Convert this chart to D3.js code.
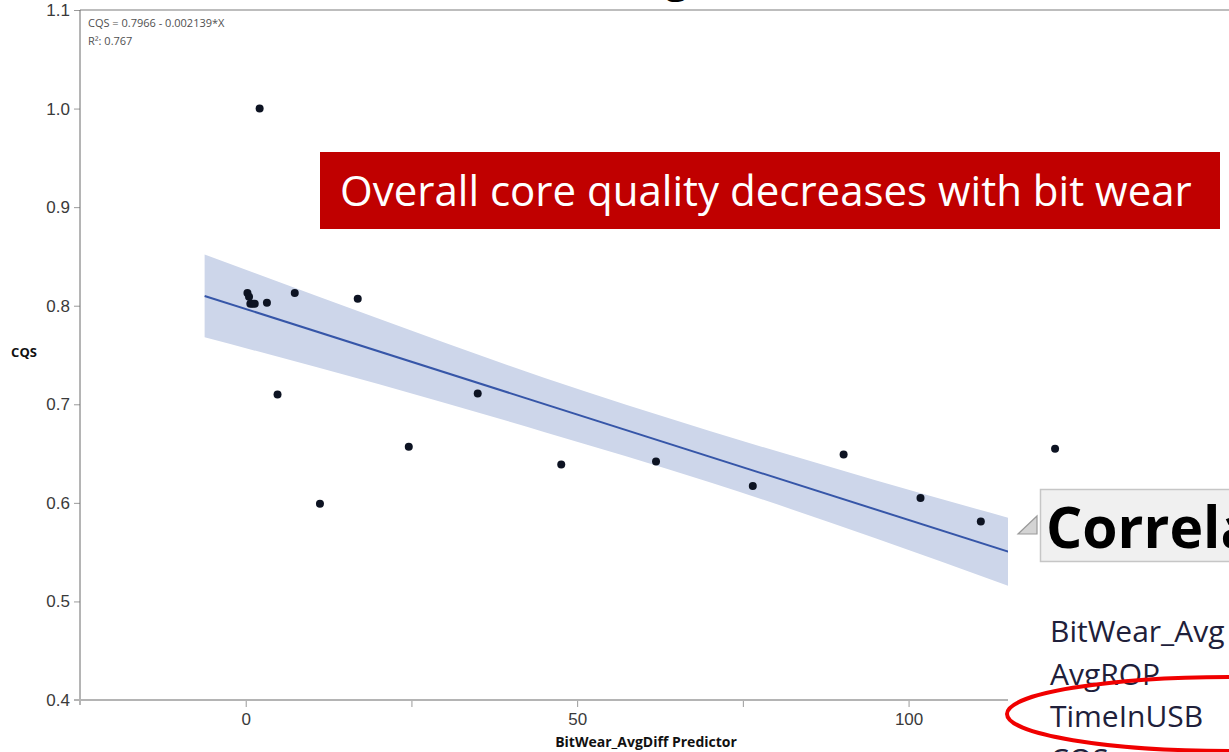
<!DOCTYPE html>
<html>
<head>
<meta charset="utf-8">
<script src="https://cdn.jsdelivr.net/npm/d3@7"></script>
<style>
  body { margin: 0; background: #fff; }
  svg { display: block; font-family: "Open Sans", "Noto Sans", sans-serif; }
  .tick text { fill: #3a3a3a; font-size: 17px; }
  .axis path, .axis line { stroke: #9a9a9a; }
</style>
</head>
<body>
<svg width="1229" height="752"></svg>
<script>
// measured points
const bitWear = [0.26, 0.5, 0.7, 1.05, 1.36, 3.2, 7.4, 16.9, 4.8, 2.1, 11.2, 24.6, 35.0, 47.6, 61.9, 76.5, 90.2, 101.8, 110.9, 122.1];
const cqs = [0.813, 0.809, 0.802, 0.802, 0.802, 0.803, 0.813, 0.807, 0.710, 1.0, 0.599, 0.657, 0.711, 0.639, 0.642, 0.617, 0.649, 0.605, 0.581, 0.655];

// fit line and confidence band
const fitX = [-6.2, 135];
const fitY = [0.8099, 0.5078];
const bandX = [-6.2, 20, 45, 70, 95, 115, 135];
const bandLo = [0.768, 0.7205, 0.672, 0.621, 0.564, 0.516, 0.466];
const bandHi = [0.852, 0.787, 0.727, 0.673, 0.623, 0.585, 0.549];

const yTicks = [0.4, 0.5, 0.6, 0.7, 0.8, 0.9, 1.0, 1.1];
const xTicks = [0, 25, 50, 75, 100];
const xLabels = ["0", "", "50", "", "100"];
const corrRows = ["BitWear_Avg", "AvgROP", "TimeInUSB", "CQS"];

const svg = d3.select("svg");
const x = d3.scaleLinear().domain([-25, 115]).range([80, 1008]);
const y = d3.scaleLinear().domain([0.4, 1.1]).range([700, 10]);

// cut-off title at the very top
svg.append("text")
  .attr("x", 424).attr("y", -7)
  .attr("font-size", 40).attr("font-weight", "bold").attr("fill", "#000")
  .text("(BitWear_AvgDiff)");

// top frame line
svg.append("line")
  .attr("x1", 80).attr("x2", 1229).attr("y1", 10).attr("y2", 10)
  .attr("stroke", "#bdbdbd").attr("stroke-width", 2);

// band
const band = bandX.map((d, i) => ({ x: d, lo: bandLo[i], hi: bandHi[i] }));
svg.append("path")
  .datum(band)
  .attr("fill", "#cdd6ea")
  .attr("d", d3.area().curve(d3.curveMonotoneX)
    .x((d) => x(d.x)).y0((d) => y(d.lo)).y1((d) => y(d.hi)));

svg.append("path")
  .datum(fitX.map((d, i) => [d, fitY[i]]))
  .attr("fill", "none").attr("stroke", "#3656a8").attr("stroke-width", 2)
  .attr("d", d3.line().x((d) => x(d[0])).y((d) => y(d[1])));

svg.selectAll("circle.pt")
  .data(bitWear.map((d, i) => [d, cqs[i]]))
  .join("circle")
  .attr("class", "pt")
  .attr("cx", (d) => x(d[0])).attr("cy", (d) => y(d[1]))
  .attr("r", 4).attr("fill", "#0d1322");

// axes
const yAxis = d3.axisLeft(y).tickValues(yTicks).tickFormat(d3.format(".1f")).tickSize(6).tickPadding(4);
svg.append("g").attr("class", "axis").attr("transform", "translate(80,0)").call(yAxis)
  .call((g) => g.select(".domain").remove());
svg.append("line")
  .attr("x1", 80).attr("x2", 80).attr("y1", 10).attr("y2", 705)
  .attr("stroke", "#6a6a6a").attr("stroke-width", 1);

const xAxis = d3.axisBottom(x).tickValues(xTicks).tickFormat((d, i) => xLabels[i]).tickSize(7).tickPadding(6);
svg.append("g").attr("class", "axis").attr("transform", "translate(0,700)").call(xAxis)
  .call((g) => g.select(".domain").remove());
svg.append("line")
  .attr("x1", 74).attr("x2", 1008).attr("y1", 700).attr("y2", 700)
  .attr("stroke", "#b4b4b4").attr("stroke-width", 2);

// axis titles
svg.append("text")
  .attr("x", 24).attr("y", 357).attr("text-anchor", "middle")
  .attr("font-size", 13).attr("font-weight", "bold").attr("fill", "#111")
  .text("CQS");
svg.append("text")
  .attr("x", 646).attr("y", 747).attr("text-anchor", "middle")
  .attr("font-size", 14).attr("font-weight", "bold").attr("fill", "#111")
  .text("BitWear_AvgDiff Predictor");

// equation
const eq = svg.append("g").attr("font-size", 11).attr("fill", "#505050");
eq.append("text").attr("x", 88).attr("y", 27).text("CQS = 0.7966 - 0.002139*X");
eq.append("text").attr("x", 88).attr("y", 45).text("R²: 0.767");

// red callout
svg.append("rect")
  .attr("x", 320).attr("y", 152).attr("width", 900).attr("height", 77)
  .attr("fill", "#c00000");
const callout = svg.append("text")
  .attr("x", 340).attr("y", 206)
  .attr("font-size", 40).attr("fill", "#fff")
  .text("Overall core quality decreases with bit wear");
const cw = callout.node().getComputedTextLength();
callout.attr("font-size", 40 * 852 / cw);

// pasted correlation panel
svg.append("rect")
  .attr("x", 1008).attr("y", 470).attr("width", 221).attr("height", 282)
  .attr("fill", "#fff");
svg.append("path")
  .attr("d", "M1018,534 L1037,534 L1037,516 Z")
  .attr("fill", "#d4d4d4").attr("stroke", "#9a9a9a").attr("stroke-width", 1.2);
svg.append("rect")
  .attr("x", 1040.5).attr("y", 489.5).attr("width", 200).attr("height", 72)
  .attr("fill", "#f0f0f0").attr("stroke", "#c6c6c6").attr("stroke-width", 1.5);
svg.append("text")
  .attr("x", 1046).attr("y", 548)
  .attr("font-size", 57).attr("font-weight", "bold").attr("fill", "#000")
  .text("Correlations");

svg.selectAll("text.row")
  .data(corrRows)
  .join("text")
  .attr("class", "row")
  .attr("x", 1050).attr("y", (d, i) => 642 + i * 42.5)
  .attr("font-size", 30).attr("fill", "#20203a")
  .text((d) => d);

svg.append("ellipse")
  .attr("cx", 1232).attr("cy", 714).attr("rx", 225).attr("ry", 37)
  .attr("fill", "none").attr("stroke", "#f00000").attr("stroke-width", 4);
</script>
</body>
</html>
